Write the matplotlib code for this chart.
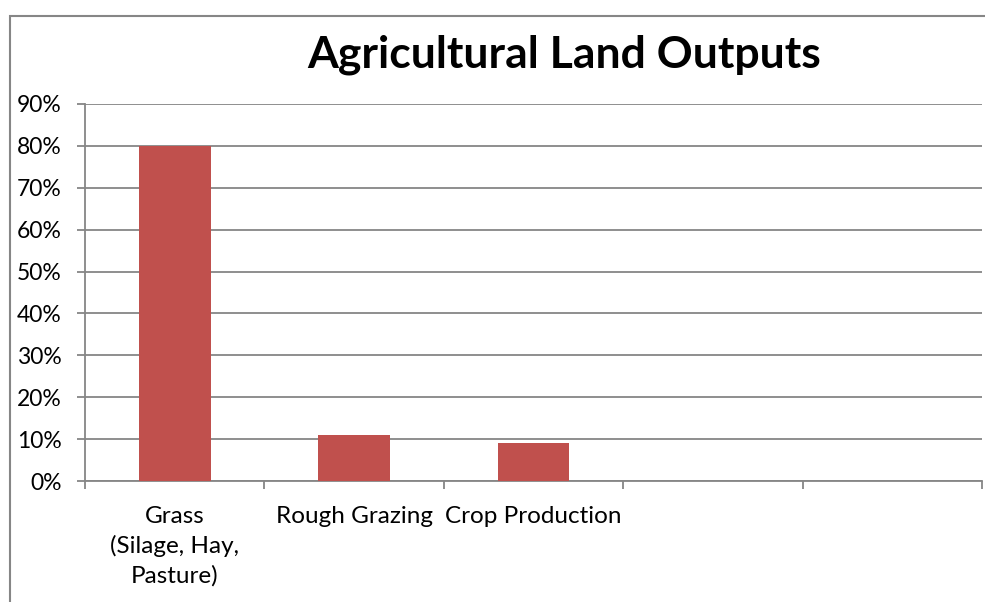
import matplotlib
matplotlib.use("Agg")
import matplotlib.pyplot as plt
from matplotlib.patches import Rectangle
from matplotlib.ticker import PercentFormatter

plt.rcParams['font.family'] = ['Lato', 'DejaVu Sans']

categories = ["Grass\n(Silage, Hay,\nPasture)", "Rough Grazing", "Crop Production", "", ""]
shares = [80, 11, 9]
yticks = [0, 10, 20, 30, 40, 50, 60, 70, 80, 90]

W, H = 985, 602
fig = plt.figure(figsize=(W / 100, H / 100), dpi=100)

# outer chart border (runs off the right and bottom edges)
fig.add_artist(Rectangle((10 / W, -0.1), 1.2, (H - 16) / H + 0.1,
                         transform=fig.transFigure, fill=False,
                         edgecolor='#868686', linewidth=1.5))

left, right = 85 / W, 982 / W
bottom, top = 1 - 481 / H, 1 - 104 / H
ax = fig.add_axes([left, bottom, right - left, top - bottom])

x = list(range(len(shares)))
ax.bar(x, shares, width=0.4, color='#C0504D', zorder=3)

ax.set_xlim(-0.5, len(categories) - 0.5)
ax.set_ylim(0, 90)
ax.set_yticks(yticks)
ax.yaxis.set_major_formatter(PercentFormatter(decimals=0))
ax.grid(axis='y', color='#868686', linewidth=1.3, zorder=0)

# category boundaries carry the ticks, labels sit in the middle of each slot
ax.set_xticks([i - 0.5 for i in range(len(categories) + 1)])
ax.set_xticklabels([])
ax.set_xticks(range(len(categories)), minor=True)
ax.set_xticklabels(categories, minor=True, fontsize=17.5, linespacing=1.45)
ax.tick_params(axis='x', which='minor', length=0, pad=18)
ax.tick_params(axis='x', which='major', length=6, width=1.3, color='#868686', direction='out')
ax.tick_params(axis='y', length=6, width=1.3, color='#868686', labelsize=16.5, pad=11)

for side in ['top', 'right']:
    ax.spines[side].set_visible(False)
for side in ['left', 'bottom']:
    ax.spines[side].set_color('#868686')
    ax.spines[side].set_linewidth(1.3)

fig.text(564 / W, 1 - 55 / H, "Agricultural Land Outputs", ha='center', va='center',
         fontsize=32, fontweight='bold')

fig.savefig("out.png", dpi=100)
